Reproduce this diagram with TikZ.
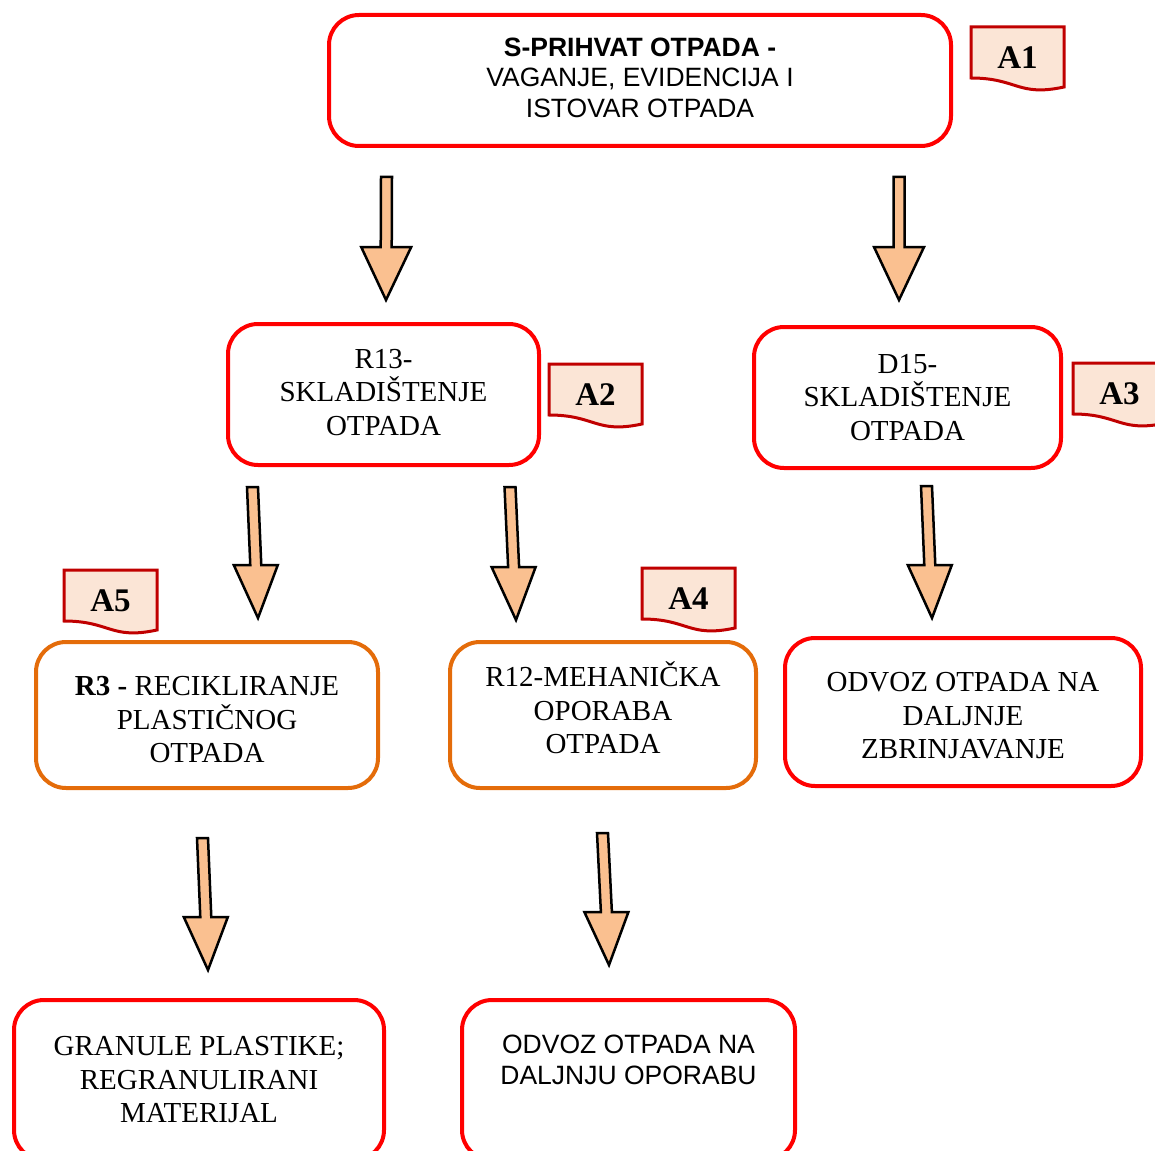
\documentclass[tikz,border=0pt]{standalone}
\usepackage{fontspec}
\setmainfont{Liberation Serif}
\setsansfont{Liberation Sans}
\usetikzlibrary{calc}

\definecolor{crvena}{RGB}{255,0,0}
\definecolor{narancasta}{RGB}{228,108,10}
\definecolor{tamnocrvena}{RGB}{192,0,0}
\definecolor{breskva}{RGB}{251,229,214}
\definecolor{svijetlonarancasta}{RGB}{250,192,144}

% blok strelica: [polusirina glave]{vrh repa}{vrh strelice}
\newcommand{\strelica}[3][22]{%
  \coordinate (baza) at ($(#3)!53pt!(#2)$);
  \draw[blokstrelica] ($(#2)+(-5.5,0)$) -- ($(baza)+(-5.5,0)$) -- ($(baza)+(-#1,0)$) -- (#3)
    -- ($(baza)+(#1,0)$) -- ($(baza)+(5.5,0)$) -- ($(#2)+(5.5,0)$) -- cycle;}

% oznaka aktivnosti: {ime}{x}{y}{tekst}
\newcommand{\oznaka}[4]{%
  \draw[oznakarub] (#2,#3) -- ++(93,0) -- ++(0,60)
    .. controls ($(#2,#3)+(46.5,70)$) and ($(#2,#3)+(46.5,51)$) .. ($(#2,#3)+(0,51)$) -- cycle;
  \node[oznakatekst] (#1) at ($(#2,#3)+(46.5,31)$) {#4};}

\begin{document}
\begin{tikzpicture}[x=1pt,y=-1pt,
  kutija/.style={draw=crvena, line width=4pt, rounded corners=30pt, inner sep=0pt},
  narkutija/.style={kutija, draw=narancasta},
  tekst/.style={align=center, inner sep=0pt, font=\fontsize{29}{33.5}\selectfont},
  sanstekst/.style={align=center, inner sep=0pt, font=\sffamily\fontsize{26.5}{30.5}\selectfont},
  blokstrelica/.style={draw=black, line width=2.5pt, line join=miter, fill=svijetlonarancasta},
  oznakarub/.style={draw=tamnocrvena, line width=3pt, fill=breskva},
  oznakatekst/.style={font=\bfseries\fontsize{33}{36}\selectfont, inner sep=0pt}]
\useasboundingbox (0,0) rectangle (1155,1150);
\clip (0,0) rectangle (1155,1150);

% prvi red
\node[kutija, minimum width=622, minimum height=131] (prihvat) at (640,80.5) {};
\node[sanstekst] (prihvattekst) at ($(prihvat)+(0,-3)$)
  {\textbf{S-PRIHVAT OTPADA -}\\VAGANJE, EVIDENCIJA I\\ISTOVAR OTPADA};
\oznaka{a1}{971}{27}{A1}

\coordinate (s1a) at (386.5,177);
\coordinate (s1b) at (386,300);
\coordinate (s2a) at (899,177);
\coordinate (s2b) at (899,300);
\strelica[25]{s1a}{s1b}
\strelica[25]{s2a}{s2b}

% skladistenje
\node[kutija, minimum width=311, minimum height=141] (r13) at (383.5,394.5) {};
\node[tekst] (r13tekst) at ($(r13)+(0,-2)$) {R13-\\SKLADIŠTENJE\\OTPADA};
\oznaka{a2}{549}{364}{A2}

\node[kutija, minimum width=307, minimum height=141] (d15) at (907.5,397.5) {};
\node[tekst] (d15tekst) at (d15) {D15-\\SKLADIŠTENJE\\OTPADA};
\oznaka{a3}{1073}{363}{A3}

\coordinate (s3a) at (252.5,487);
\coordinate (s3b) at (258,618);
\coordinate (s4a) at (510,487);
\coordinate (s4b) at (516,620);
\coordinate (s5a) at (926.5,486);
\coordinate (s5b) at (932,618);
\strelica{s3a}{s3b}
\strelica{s4a}{s4b}
\strelica{s5a}{s5b}

% obrada
\oznaka{a5}{64}{570}{A5}
\oznaka{a4}{642}{568}{A4}
\node[narkutija, minimum width=342, minimum height=146] (r3) at (207,715) {};
\node[tekst] (r3tekst) at ($(r3)+(0,5)$) {\textbf{R3 -} RECIKLIRANJE\\PLASTIČNOG\\OTPADA};
\node[narkutija, minimum width=306, minimum height=146] (r12) at (603,715) {};
\node[tekst] (r12tekst) at ($(r12)+(0,-7)$) {R12-MEHANIČKA\\OPORABA\\OTPADA};
\node[kutija, minimum width=356, minimum height=148] (odvozd) at (963,712) {};
\node[tekst] (odvozdtekst) at ($(odvozd)+(0,4)$) {ODVOZ OTPADA NA\\DALJNJE\\ZBRINJAVANJE};

\coordinate (s6a) at (202.5,838);
\coordinate (s6b) at (208,970);
\coordinate (s7a) at (602.5,833);
\coordinate (s7b) at (609,965);
\strelica{s6a}{s6b}
\strelica{s7a}{s7b}

% izlaz
\node[kutija, minimum width=370, minimum height=160] (granule) at (199,1080) {};
\node[tekst] (granuletekst) at (granule) {GRANULE PLASTIKE;\\REGRANULIRANI\\MATERIJAL};
\node[kutija, minimum width=333, minimum height=160] (odvozr) at (628.5,1080) {};
\node[sanstekst] (odvozrtekst) at ($(odvozr)+(0,-20)$) {ODVOZ OTPADA NA\\DALJNJU OPORABU};

\end{tikzpicture}
\end{document}
